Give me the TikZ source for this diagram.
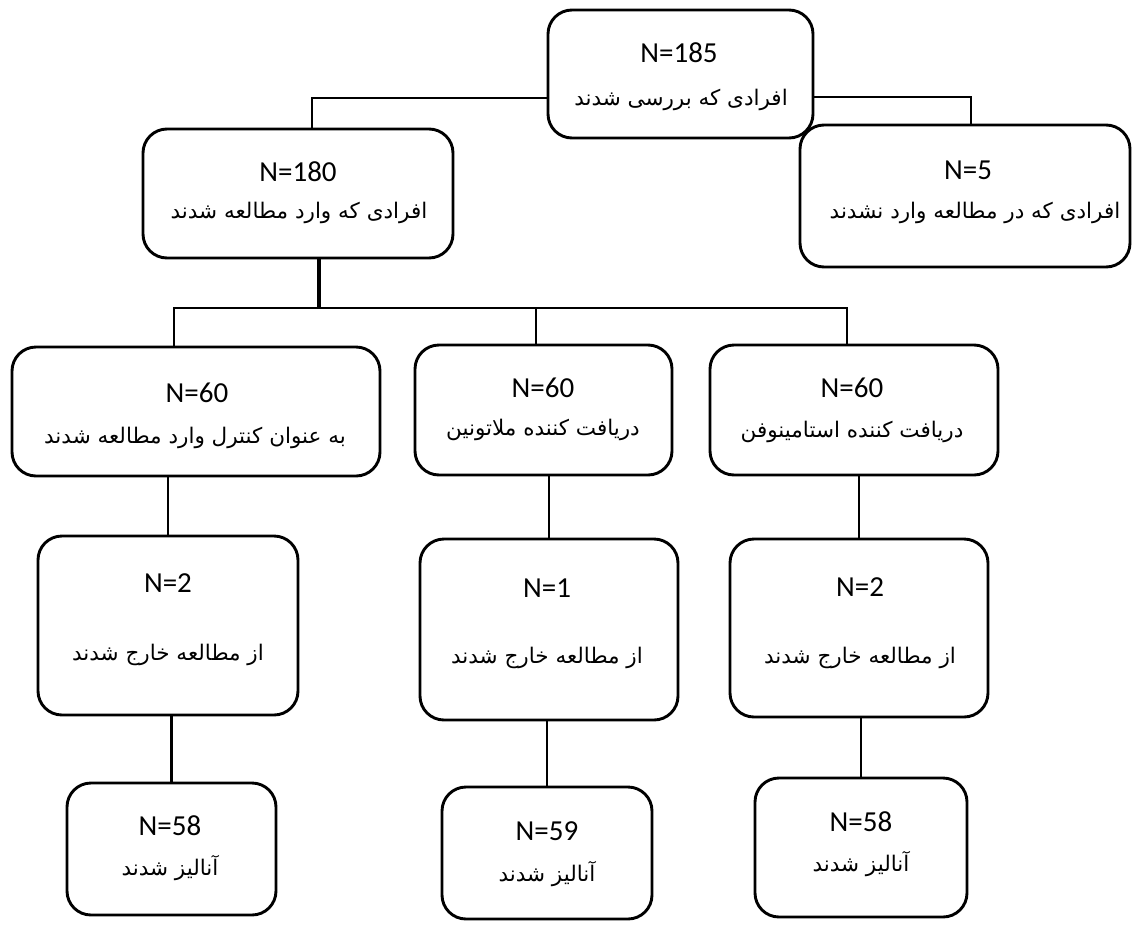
\documentclass[tikz,border=0pt]{standalone}
\usepackage{fontspec}
\setmainfont{Carlito}
\newfontfamily\arabicfont[Script=Arabic]{DejaVu Sans}
\TeXXeTstate=1
\begin{document}
\begin{tikzpicture}[x=1pt,y=-1pt,
  box/.style={draw, line width=2.9pt, rounded corners=24pt, inner sep=0pt},
  conn/.style={line width=2.2pt},
  nlabel/.style={font=\fontsize{29}{32}\selectfont, inner sep=0pt},
  flabel/.style={font=\arabicfont\fontsize{21.5}{24}\selectfont, inner sep=0pt}]
\useasboundingbox (0,0) rectangle (1135,924);
% boxes
\node[box, minimum width=265pt, minimum height=128pt] (top) at (680.5,74) {};
\node[box, minimum width=310pt, minimum height=129pt] (n180) at (298,193.5) {};
\node[box, minimum width=330pt, minimum height=142pt] (n5) at (965,196) {};
\node[box, minimum width=368pt, minimum height=129pt] (r3a) at (196,411.5) {};
\node[box, minimum width=257pt, minimum height=130pt] (r3b) at (543.5,410) {};
\node[box, minimum width=288pt, minimum height=130pt] (r3c) at (854,410) {};
\node[box, minimum width=260pt, minimum height=179pt] (r4a) at (168,625.5) {};
\node[box, minimum width=258pt, minimum height=181pt] (r4b) at (549,629.5) {};
\node[box, minimum width=258pt, minimum height=178pt] (r4c) at (859,628) {};
\node[box, minimum width=209pt, minimum height=132pt] (r5a) at (171.5,849) {};
\node[box, minimum width=210pt, minimum height=132pt] (r5b) at (547,853) {};
\node[box, minimum width=212pt, minimum height=139pt] (r5c) at (861,847.5) {};
% texts
\node[nlabel] (topn) at (679,53) {N=185};
\node[flabel] (topt) at (681,100) {\beginR افرادی که بررسی شدند\endR};
\node[nlabel] (n180n) at (298,172) {N=180};
\node[flabel] (n180t) at (299,213) {\beginR افرادی که وارد مطالعه شدند\endR};
\node[nlabel] (n5n) at (968,170) {N=5};
\node[flabel] (n5t) at (975,213) {\beginR افرادی که در مطالعه وارد نشدند\endR};
\node[nlabel] (r3an) at (197,393) {N=60};
\node[flabel] (r3at) at (195,438) {\beginR به عنوان کنترل وارد مطالعه شدند\endR};
\node[nlabel] (r3bn) at (543,388) {N=60};
\node[flabel] (r3bt) at (543,430) {\beginR دریافت کننده ملاتونین\endR};
\node[nlabel] (r3cn) at (852,388) {N=60};
\node[flabel] (r3ct) at (852,432) {\beginR دریافت کننده استامینوفن\endR};
\node[nlabel] (r4an) at (168,583) {N=2};
\node[flabel] (r4at) at (168,655) {\beginR از مطالعه خارج شدند\endR};
\node[nlabel] (r4bn) at (547,588) {N=1};
\node[flabel] (r4bt) at (547,658) {\beginR از مطالعه خارج شدند\endR};
\node[nlabel] (r4cn) at (860,587) {N=2};
\node[flabel] (r4ct) at (860,658) {\beginR از مطالعه خارج شدند\endR};
\node[nlabel] (r5an) at (170,826) {N=58};
\node[flabel] (r5at) at (170,868) {\beginR آنالیز شدند\endR};
\node[nlabel] (r5bn) at (547,831) {N=59};
\node[flabel] (r5bt) at (547,874) {\beginR آنالیز شدند\endR};
\node[nlabel] (r5cn) at (861,822) {N=58};
\node[flabel] (r5ct) at (861,864) {\beginR آنالیز شدند\endR};
% connectors
\coordinate (split) at (319,308);
\draw[conn] ([yshift=-24pt]top.west) -| ([xshift=14pt]n180.north);
\draw[conn] ([yshift=-23pt]top.east) -| ([xshift=6pt]n5.north);
\draw[line width=3.4pt] ([xshift=21pt]n180.south) -- (split);
\draw[conn] ([xshift=-22pt]r3a.north) |- (split);
\draw[conn] (split) -| ([xshift=-7pt]r3c.north);
\draw[conn] ([xshift=-7.5pt]r3b.north) -- ([xshift=-7.5pt]r3b.north |- split);
\draw[conn] (r3a.south -| r4a.north) -- (r4a.north);
\draw[conn] (r3b.south -| r4b.north) -- (r4b.north);
\draw[conn] (r3c.south -| r4c.north) -- (r4c.north);
\draw[conn] (r4a.south -| r5a.north) -- (r5a.north);
\draw[conn] (r4b.south -| r5b.north) -- (r5b.north);
\draw[conn] (r4c.south -| r5c.north) -- (r5c.north);
\end{tikzpicture}
\end{document}
